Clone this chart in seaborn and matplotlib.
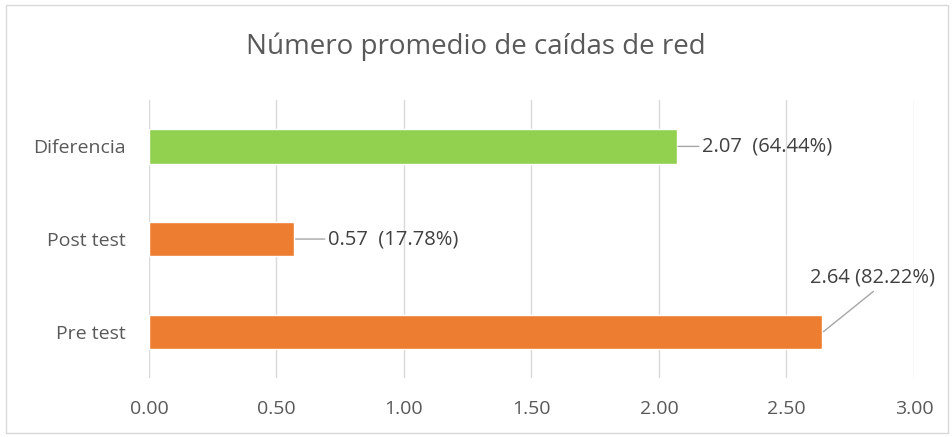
import pandas as pd
import numpy as np
import seaborn as sns
import matplotlib.pyplot as plt
from matplotlib.patches import Rectangle

categorias = ['Diferencia', 'Post test', 'Pre test']
valores = [2.07, 0.57, 2.64]
etiquetas = ['2.07  (64.44%)', '0.57  (17.78%)', '2.64 (82.22%)']
colores = {'Diferencia': '#92D050', 'Post test': '#ED7D31', 'Pre test': '#ED7D31'}
xticks = [0.0, 0.5, 1.0, 1.5, 2.0, 2.5, 3.0]

df = pd.DataFrame({'categoria': categorias, 'valor': valores})

sns.set_style('white')
plt.rcParams['font.family'] = ['Open Sans', 'DejaVu Sans']

fig = plt.figure(figsize=(9.52, 4.37), dpi=100)
ax = fig.add_axes([0.1565, 0.135, 0.8035, 0.636])

sns.barplot(data=df, y='categoria', x='valor', hue='categoria', palette=colores,
            order=categorias, orient='h', width=0.37, legend=False, ax=ax,
            saturation=1)

ax.set_xlim(0, 3.0)
ax.set_ylim(2.5, -0.5)
ax.set_xticks(xticks)
ax.set_xticklabels([f'{t:.2f}' for t in xticks])
ax.xaxis.grid(True, color='#D9D9D9', linewidth=1)
ax.set_axisbelow(True)
for s in ax.spines.values():
    s.set_visible(False)
ax.tick_params(axis='x', length=0, pad=16, labelsize=14, labelcolor='#595959')
ax.tick_params(axis='y', length=0, pad=17, labelsize=14, labelcolor='#595959')
ax.set_xlabel('')
ax.set_ylabel('')

# etiquetas con lineas guia
offsets = [(18, 0), (24, 0), (36, 32)]
for i, (v, txt) in enumerate(zip(valores, etiquetas)):
    dx, dy = offsets[i]
    if dy == 0:
        ax.annotate(txt, xy=(v, i), xytext=(dx, 0), textcoords='offset points',
                    ha='left', va='center', fontsize=14.5, color='#404040')
        ax.annotate('', xy=(v + 0.005, i), xytext=(dx - 3, 0), textcoords='offset points',
                    arrowprops=dict(arrowstyle='-', color='#A6A6A6', lw=1,
                                    shrinkA=0, shrinkB=0))
    else:
        ax.annotate(txt, xy=(v, i), xytext=(dx, dy), textcoords='offset points',
                    ha='center', va='bottom', fontsize=14.5, color='#404040')
        ax.annotate('', xy=(v + 0.005, i), xytext=(dx, dy - 3), textcoords='offset points',
                    arrowprops=dict(arrowstyle='-', color='#A6A6A6', lw=1,
                                    shrinkA=0, shrinkB=0))

fig.text(0.5, 0.892, 'Número promedio de caídas de red', ha='center', va='center',
         fontsize=20, color='#595959')

fig.patches.append(Rectangle((0.006, 0.01), 0.99, 0.978, transform=fig.transFigure,
                             fill=False, edgecolor='#D9D9D9', linewidth=1))

fig.savefig('out.png', dpi=100)
